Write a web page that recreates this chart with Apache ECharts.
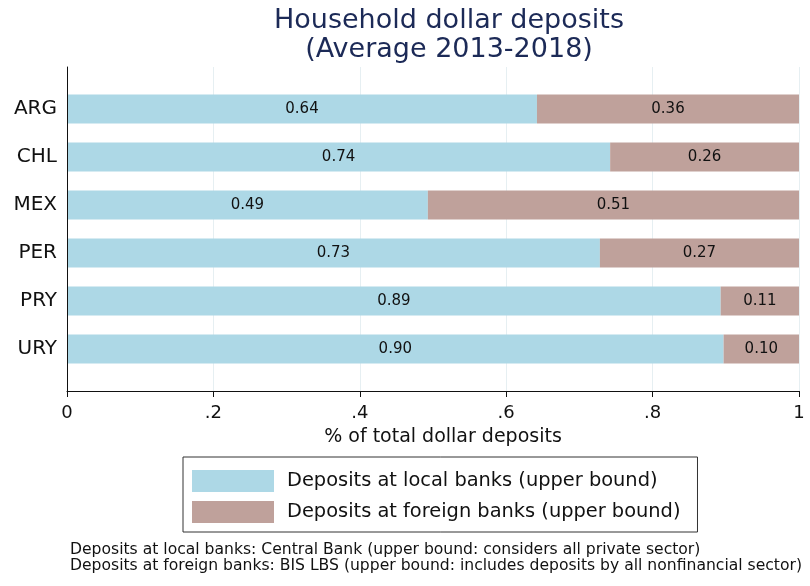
<!DOCTYPE html>
<html>
<head>
<meta charset="utf-8">
<script src="https://cdn.jsdelivr.net/npm/echarts@6/dist/echarts.min.js"></script>
<style>
  html, body { margin: 0; padding: 0; background: #fff; }
  #main { width: 810px; height: 586px; }
</style>
</head>
<body>
<div id="main"></div>
<script>
var countries = ["ARG", "CHL", "MEX", "PER", "PRY", "URY"];
var localBanks = [0.642, 0.742, 0.493, 0.728, 0.893, 0.897];
var foreignBanks = [0.358, 0.258, 0.507, 0.272, 0.107, 0.103];
var xTickLabels = ["0", ".2", ".4", ".6", ".8", "1"];
var noteLines = [
  "Deposits at local banks: Central Bank (upper bound: considers all private sector)",
  "Deposits at foreign banks: BIS LBS (upper bound: includes deposits by all nonfinancial sector)"
];

var font = "DejaVu Sans";
var localColor = "#add8e6";
var foreignColor = "#bfa19b";

var chart = echarts.init(document.getElementById("main"));

var barLabel = {
  show: true,
  position: "inside",
  color: "#111",
  fontSize: 15,
  fontFamily: font,
  formatter: function (p) {
    return p.value.toFixed(2);
  }
};

var option = {
  animation: false,
  backgroundColor: "#fff",
  title: {
    text: "Household dollar deposits\n(Average 2013-2018)",
    left: 444,
    top: 1,
    textAlign: "center",
    textStyle: {
      fontFamily: font,
      fontWeight: "normal",
      fontSize: 27,
      lineHeight: 29,
      color: "#1c2a57"
    }
  },
  legend: {
    left: 183,
    top: 457,
    orient: "vertical",
    icon: "rect",
    itemWidth: 82,
    itemHeight: 22,
    itemGap: 9,
    borderColor: "#333",
    borderWidth: 1,
    padding: [13, 17, 9, 9],
    textStyle: {
      fontFamily: font,
      fontSize: 19.4,
      color: "#111",
      padding: [0, 0, 0, 8]
    },
    data: ["Deposits at local banks (upper bound)", "Deposits at foreign banks (upper bound)"]
  },
  grid: [
    { left: 67, right: 11, top: 85, bottom: 213 },
    { left: 67, right: 11, top: 67, bottom: 195 }
  ],
  xAxis: [
    { type: "value", gridIndex: 0, min: 0, max: 1, show: false },
    {
      type: "value",
      gridIndex: 1,
      min: 0,
      max: 1,
      interval: 0.2,
      name: "% of total dollar deposits",
      nameLocation: "middle",
      nameGap: 37,
      nameTextStyle: { fontFamily: font, fontSize: 19, color: "#111", padding: [0, 0, 0, 20] },
      axisLine: { show: true, onZero: false, lineStyle: { color: "#111", width: 1 } },
      axisTick: { show: true, length: 6, lineStyle: { color: "#111" } },
      axisLabel: {
        fontFamily: font,
        fontSize: 18,
        color: "#111",
        margin: 13,
        formatter: function (v) {
          return xTickLabels[Math.round(v * 5)];
        }
      },
      splitLine: { show: true, lineStyle: { color: "#e6eff2", width: 1 } }
    }
  ],
  yAxis: [
    {
      type: "category",
      gridIndex: 0,
      data: countries,
      inverse: true,
      axisLine: { show: false },
      axisTick: { show: false },
      axisLabel: { fontFamily: font, fontSize: 20, color: "#111", margin: 10 }
    },
    {
      type: "value",
      gridIndex: 1,
      min: 0,
      max: 1,
      z: 10,
      axisLine: { show: true, onZero: false, lineStyle: { color: "#111", width: 1 } },
      axisTick: { show: false },
      axisLabel: { show: false },
      splitLine: { show: false }
    }
  ],
  graphic: noteLines.map(function (t, i) {
    return {
      type: "text",
      left: 70,
      top: 542 + i * 16,
      style: { text: t, fontFamily: font, fontSize: 15.6, fill: "#111" }
    };
  }),
  series: [
    {
      name: "Deposits at local banks (upper bound)",
      type: "bar",
      stack: "total",
      xAxisIndex: 0,
      yAxisIndex: 0,
      barWidth: 29,
      itemStyle: { color: localColor },
      label: barLabel,
      data: localBanks
    },
    {
      name: "Deposits at foreign banks (upper bound)",
      type: "bar",
      stack: "total",
      xAxisIndex: 0,
      yAxisIndex: 0,
      barWidth: 29,
      itemStyle: { color: foreignColor },
      label: barLabel,
      data: foreignBanks
    }
  ]
};

chart.setOption(option);
</script>
</body>
</html>
